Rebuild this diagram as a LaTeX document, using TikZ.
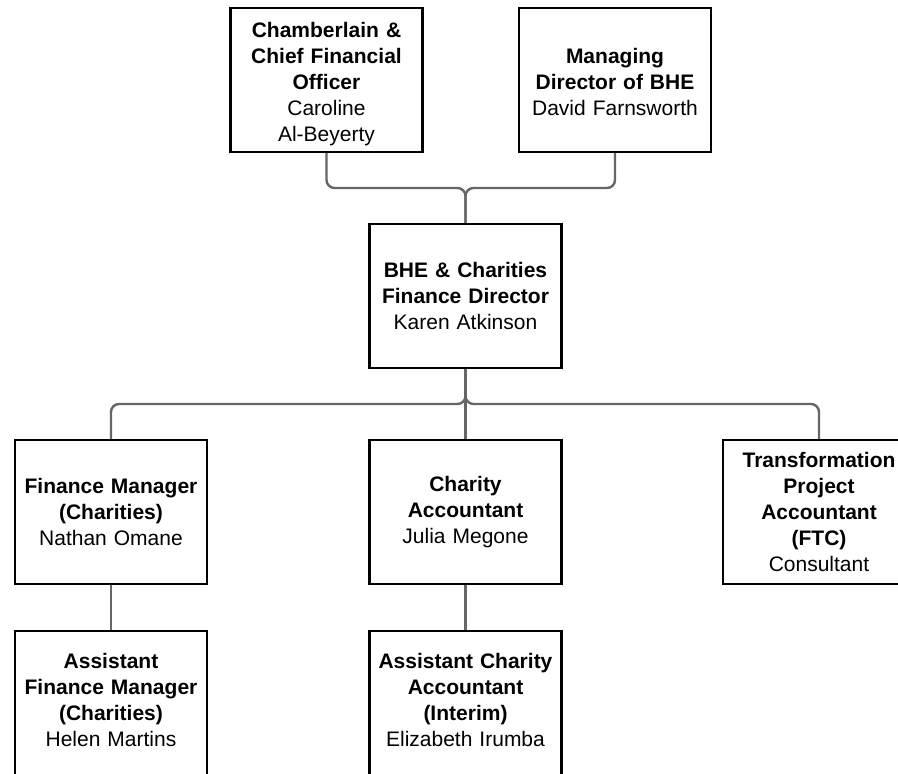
\documentclass[tikz,border=0pt]{standalone}
\usepackage{fontspec}
\setmainfont{Liberation Sans}
\begin{document}
\begin{tikzpicture}[x=1pt,y=-1pt,
  orgbox/.style={draw=black, line width=2.4pt, fill=white, minimum width=192pt, minimum height=144pt,
    text width=188pt, align=center, inner sep=0pt, font=\fontsize{21}{26}\selectfont},
  link/.style={draw=black!60, line width=2.4pt, rounded corners=8pt}]
\clip (0,0) rectangle (898,774);
\useasboundingbox (0,0) rectangle (898,774);
\fill[white] (0,0) rectangle (898,774);
\node[orgbox] (cfo) at (326.5,80) {\rule{0pt}{22.5pt}\textbf{Chamberlain \&}\\\textbf{Chief Financial}\\\textbf{Officer}\\Caroline\\Al-Beyerty};
\node[orgbox] (md) at (615,80) {\rule{0pt}{19.5pt}\textbf{Managing}\\\textbf{Director of BHE}\\David Farnsworth};
\node[orgbox] (fd) at (465.5,296) {\textbf{BHE \& Charities}\\\textbf{Finance Director}\\Karen Atkinson};
\node[orgbox] (fm) at (111,512) {\textbf{Finance Manager}\\\textbf{(Charities)}\\Nathan Omane};
\node[orgbox] (ca) at (465.5,512) {\textbf{Charity}\\\textbf{Accountant}\\Julia Megone};
\node[orgbox] (tp) at (819,512) {\textbf{Transformation}\\\textbf{Project}\\\textbf{Accountant}\\\textbf{(FTC)}\\Consultant};
\node[orgbox] (afm) at (111,703) {\textbf{Assistant}\\\textbf{Finance Manager}\\\textbf{(Charities)}\\Helen Martins\rule[-7pt]{0pt}{0pt}};
\node[orgbox] (aca) at (465.5,703) {\textbf{Assistant Charity}\\\textbf{Accountant}\\\textbf{(Interim)}\\Elizabeth Irumba\rule[-7pt]{0pt}{0pt}};
\coordinate (topbar) at (465.5,188);
\coordinate (midbar) at (465.5,404);
\draw[link] (cfo.south) |- (topbar) -- (fd.north);
\draw[link] (md.south) |- (topbar) -- (fd.north);
\draw[link] (fd.south) -- (midbar) -| (fm.north);
\draw[link] (fd.south) -- (midbar) -| (tp.north);
\draw[link] (fd.south) -- (ca.north);
\draw[link] (fm.south) -- (afm.north);
\draw[link] (ca.south) -- (aca.north);
\end{tikzpicture}
\end{document}
